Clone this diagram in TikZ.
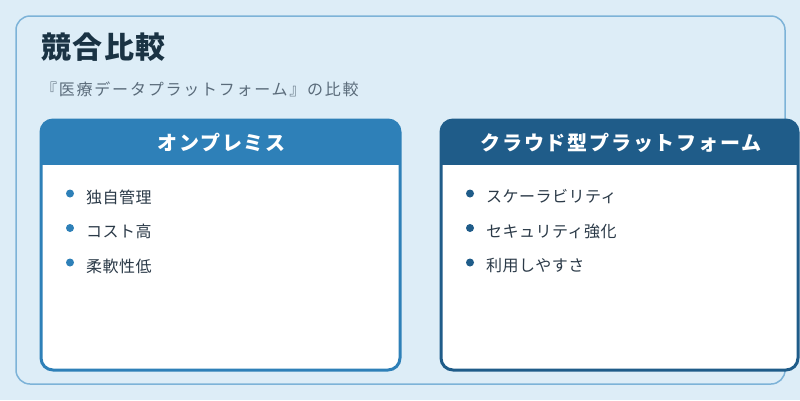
\documentclass[tikz,border=0pt]{standalone}
\usepackage{fontspec}
\setmainfont{Noto Sans CJK JP}
\usetikzlibrary{positioning}
\definecolor{bgblue}{HTML}{DDEDF7}
\definecolor{frameblue}{HTML}{7DB3D8}
\definecolor{headA}{HTML}{2E80B8}
\definecolor{headB}{HTML}{1F5C89}
\definecolor{titlec}{HTML}{1A3344}
\definecolor{subc}{HTML}{5A6B7A}
\definecolor{textc}{HTML}{2B3A48}
\tikzset{
  headtext/.style={text=white, font=\fontsize{20}{24}\selectfont\bfseries\addfontfeatures{LetterSpace=9}, inner sep=0pt},
  itemtext/.style={text=textc, font=\fontsize{16}{19}\selectfont\addfontfeatures{LetterSpace=3}, anchor=west, inner sep=0pt},
  dot/.style={circle, inner sep=0pt, minimum size=8pt}
}
\begin{document}
\begin{tikzpicture}[x=1pt,y=-1pt]
		\useasboundingbox (0,0) rectangle (800,400);
		\fill[bgblue] (0,0) rectangle (800,400);
		\draw[frameblue, line width=1.5pt, rounded corners=14pt] (16,16) rectangle (785,384);
		
		\node[anchor=west, text=titlec, font=\fontsize{30}{34}\selectfont\bfseries\addfontfeatures{LetterSpace=5}, inner sep=0pt] (title) at (41,47) {競合比較};
		\node[anchor=west, text=subc, font=\fontsize{16}{19}\selectfont\addfontfeatures{LetterSpace=11}, inner sep=0pt] (sub) at (41,89) {『医療データプラットフォーム』の比較};
		
		% left card
		\begin{scope}
		\clip[rounded corners=12pt] (41,120) rectangle (400,370);
		\fill[white] (41,120) rectangle (400,370);
		\fill[headA] (41,120) rectangle (400,165);
		\end{scope}
		\draw[headA, line width=3pt, rounded corners=12pt] (41,120) rectangle (400,370);
		\node[headtext] (onprem) at (221.5,143) {オンプレミス};
		
		\node[dot, fill=headA] (a1) at (70,193.5) {};
		\node[itemtext] (t1) at (86,197) {独自管理};
		\node[dot, fill=headA] (a2) at (70,228) {};
		\node[itemtext] (t2) at (86,231.5) {コスト高};
		\node[dot, fill=headA] (a3) at (70,262.5) {};
		\node[itemtext] (t3) at (86,266) {柔軟性低};
		
		% right card
		\begin{scope}
		\clip[rounded corners=12pt] (441,120) rectangle (798,370);
		\fill[white] (441,120) rectangle (798,370);
		\fill[headB] (441,120) rectangle (798,165);
		\end{scope}
		\draw[headB, line width=3pt, rounded corners=12pt] (441,120) rectangle (798,370);
		\node[headtext] (cloud) at (621,143) {クラウド型プラットフォーム};
		
		\node[dot, fill=headB] (b1) at (470,193.5) {};
		\node[itemtext] (u1) at (486,197) {スケーラビリティ};
		\node[dot, fill=headB] (b2) at (470,228) {};
		\node[itemtext] (u2) at (486,231.5) {セキュリティ強化};
		\node[dot, fill=headB] (b3) at (470,262.5) {};
		\node[itemtext] (u3) at (486,266) {利用しやすさ};
\end{tikzpicture}
\end{document}
